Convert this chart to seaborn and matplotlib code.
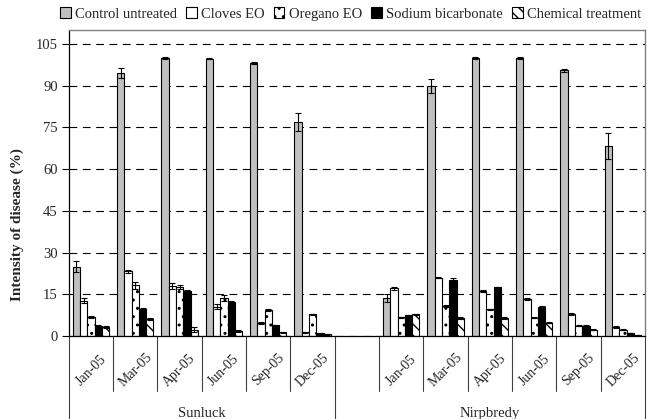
import numpy as np
import pandas as pd
import seaborn as sns
import matplotlib.pyplot as plt
import matplotlib.patches as mpatches
import matplotlib.transforms as mtransforms

# Datos
meses = ["Jan-05", "Mar-05", "Apr-05", "Jun-05", "Sep-05", "Dec-05"]
sitios = ["Sunluck", "Nirpbredy"]
tratamientos = ["Control untreated", "Cloves EO", "Oregano EO", "Sodium bicarbonate", "Chemical treatment"]

sunluck_control = [24.9, 94.5, 100.0, 99.8, 98.3, 77.0]
sunluck_cloves = [12.7, 23.3, 18.0, 10.6, 4.6, 1.4]
sunluck_oregano = [6.8, 18.2, 17.6, 13.6, 9.3, 7.8]
sunluck_sodium = [3.6, 9.6, 16.2, 12.4, 3.8, 1.0]
sunluck_chem = [3.2, 6.2, 2.3, 1.8, 1.3, 0.6]

sunluck_control_err = [2.0, 1.8, 0.3, 0.3, 0.4, 3.2]
sunluck_cloves_err = [0.8, 0.6, 1.0, 0.8, 0.4, 0.2]
sunluck_oregano_err = [0.3, 1.2, 0.8, 1.0, 0.3, 0.3]
sunluck_sodium_err = [0.3, 0.4, 0.3, 0.3, 0.2, 0.1]
sunluck_chem_err = [0.3, 0.3, 0.8, 0.3, 0.2, 0.1]

nirp_control = [13.8, 89.9, 100.0, 100.0, 95.6, 68.3]
nirp_cloves = [17.2, 21.0, 16.2, 13.3, 8.0, 3.2]
nirp_oregano = [6.7, 10.7, 9.6, 6.6, 3.7, 2.3]
nirp_sodium = [7.5, 20.2, 17.5, 10.6, 3.7, 1.1]
nirp_chem = [7.8, 6.5, 6.5, 4.8, 2.3, 0.4]

nirp_control_err = [1.4, 2.4, 0.3, 0.3, 0.6, 4.6]
nirp_cloves_err = [0.6, 0.3, 0.3, 0.3, 0.4, 0.4]
nirp_oregano_err = [0.2, 0.4, 0.2, 0.2, 0.2, 0.3]
nirp_sodium_err = [0.2, 0.6, 0.3, 0.2, 0.2, 0.1]
nirp_chem_err = [0.3, 0.2, 0.2, 0.2, 0.2, 0.1]

y_ticks = [0, 15, 30, 45, 60, 75, 90, 105]

# Estilo de cada tratamiento
colores = ["#c0c0c0", "white", "white", "black", "white"]
tramas = ["", "", "..", "", "\\\\\\"]

valores = {
    "Sunluck": [sunluck_control, sunluck_cloves, sunluck_oregano, sunluck_sodium, sunluck_chem],
    "Nirpbredy": [nirp_control, nirp_cloves, nirp_oregano, nirp_sodium, nirp_chem],
}
errores = {
    "Sunluck": [sunluck_control_err, sunluck_cloves_err, sunluck_oregano_err, sunluck_sodium_err, sunluck_chem_err],
    "Nirpbredy": [nirp_control_err, nirp_cloves_err, nirp_oregano_err, nirp_sodium_err, nirp_chem_err],
}

# Orden de categorias: 6 meses Sunluck, un hueco, 6 meses Nirpbredy
orden = [f"Sunluck|{m}" for m in meses] + ["gap"] + [f"Nirpbredy|{m}" for m in meses]

filas = []
for sitio in sitios:
    for t, trat in enumerate(tratamientos):
        for m, mes in enumerate(meses):
            filas.append({
                "cat": f"{sitio}|{mes}",
                "tratamiento": trat,
                "valor": valores[sitio][t][m],
                "err": errores[sitio][t][m],
            })
df = pd.DataFrame(filas)

sns.set_style("white")
plt.rcParams["font.family"] = ["Liberation Serif", "DejaVu Serif"]
plt.rcParams["hatch.linewidth"] = 1.0

fig = plt.figure(figsize=(6.49, 4.19), dpi=100)
ax = fig.add_axes([0.106, 0.198, 0.888, 0.730])

sns.barplot(
    data=df, x="cat", y="valor", hue="tratamiento",
    order=orden, hue_order=tratamientos, palette=colores,
    width=0.82, edgecolor="black", linewidth=0.8,
    errorbar=None, legend=False, ax=ax,
)

# Tramas y barras de error
err_lookup = {(r["cat"], r["tratamiento"]): r["err"] for _, r in df.iterrows()}
contenedores = list(ax.containers)
for t, cont in enumerate(contenedores):
    for barra in cont.patches:
        barra.set_hatch(tramas[t])
        cx = barra.get_x() + barra.get_width() / 2
        idx = int(round(cx))
        e = err_lookup.get((orden[idx], tratamientos[t]))
        if e is None:
            continue
        ax.errorbar(cx, barra.get_height(), yerr=e, fmt="none", ecolor="black",
                    elinewidth=0.8, capsize=2.5, capthick=0.8, zorder=5)

ax.set_ylim(0, 110)
ax.set_xlim(-0.5, len(orden) - 0.5)
ax.set_yticks(y_ticks)
ax.set_yticklabels([str(v) for v in y_ticks], fontsize=10.5)
ax.tick_params(axis="y", direction="out", length=5, width=0.8, color="black", pad=3, left=True)
ax.set_xticks([])
ax.set_xlabel("")
ax.set_ylabel("Intensity of disease (%)", fontsize=11, fontweight="bold")
ax.yaxis.set_label_coords(-0.078, 0.363)

ax.yaxis.grid(True, linestyle=(0, (7, 5)), color="black", linewidth=0.8)
ax.set_axisbelow(True)
for lado in ["top", "right"]:
    ax.spines[lado].set_color("#808080")
    ax.spines[lado].set_linewidth(1.0)
for lado in ["left", "bottom"]:
    ax.spines[lado].set_color("black")
    ax.spines[lado].set_linewidth(0.9)

# Etiquetas multinivel del eje x
trans = mtransforms.blended_transform_factory(ax.transData, ax.transAxes)
for i, cat in enumerate(orden):
    if cat == "gap":
        continue
    ax.text(i, -0.111, cat.split("|")[1], transform=trans, rotation=45,
            ha="center", va="center", fontsize=10, rotation_mode="anchor")

largas = [-0.5, 5.5, len(orden) - 0.5]
for b in np.arange(-0.5, len(orden), 1.0):
    if b in largas:
        y_fin = -0.28
    elif abs(b - 6.0) < 0.6 and b < 6:
        continue
    else:
        y_fin = -0.181
    ax.plot([b, b], [0, y_fin], transform=trans, color="#404040", lw=0.8, clip_on=False)

ax.text(2.5, -0.252, "Sunluck", transform=trans, ha="center", va="center", fontsize=10.5)
ax.text(9.0, -0.252, "Nirpbredy", transform=trans, ha="center", va="center", fontsize=10.5)

# Leyenda superior
handles = [mpatches.Patch(facecolor=c, edgecolor="black", hatch=h, linewidth=0.8)
           for c, h in zip(colores, tramas)]
fig.legend(handles, tratamientos, loc="upper center", bbox_to_anchor=(0.54, 1.003),
           ncol=5, frameon=False, fontsize=10.5, handlelength=0.75, handleheight=0.75,
           handletextpad=0.3, columnspacing=0.6, borderaxespad=0.2)

fig.savefig("out.png", dpi=100)
